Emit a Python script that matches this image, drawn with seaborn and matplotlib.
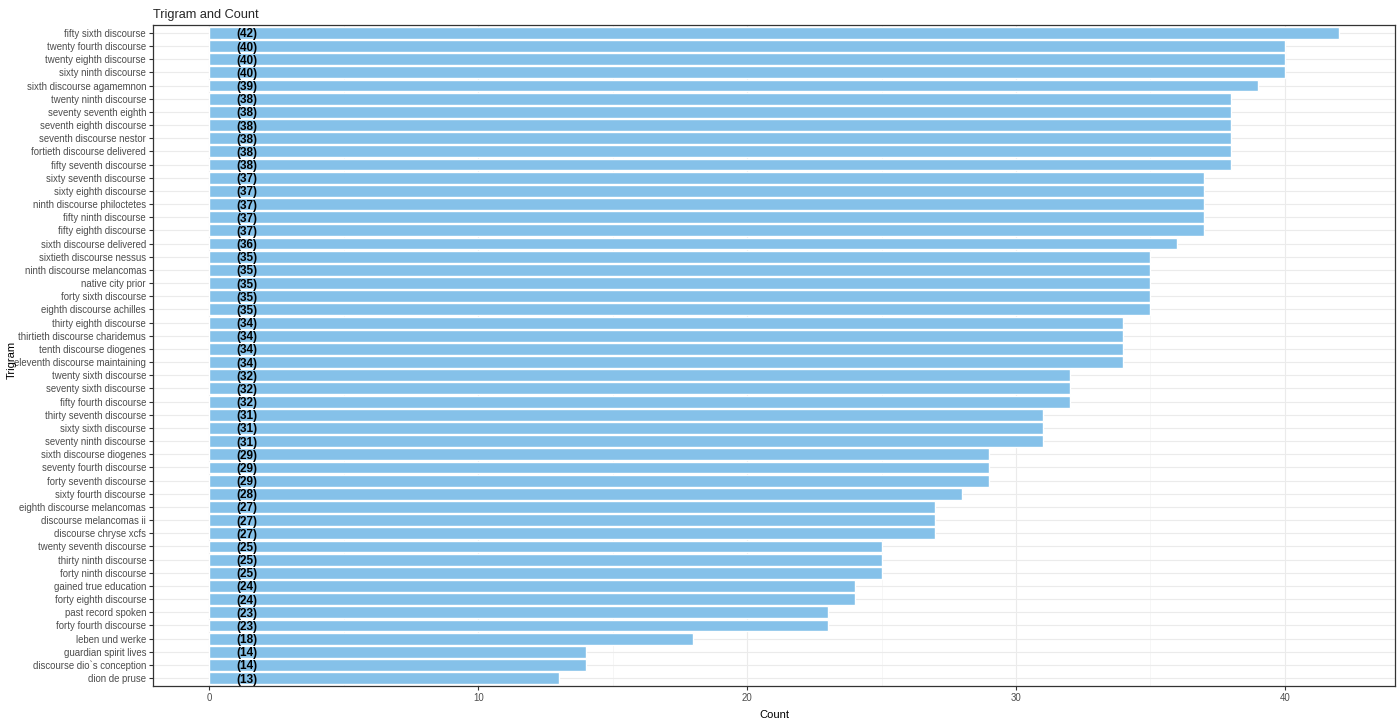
import pandas as pd
import matplotlib.pyplot as plt
import seaborn as sns
from matplotlib.ticker import MultipleLocator

trigrams = [
    "fifty sixth discourse", "twenty fourth discourse", "twenty eighth discourse",
    "sixty ninth discourse", "sixth discourse agamemnon", "twenty ninth discourse",
    "seventy seventh eighth", "seventh eighth discourse", "seventh discourse nestor",
    "fortieth discourse delivered", "fifty seventh discourse", "sixty seventh discourse",
    "sixty eighth discourse", "ninth discourse philoctetes", "fifty ninth discourse",
    "fifty eighth discourse", "sixth discourse delivered", "sixtieth discourse nessus",
    "ninth discourse melancomas", "native city prior", "forty sixth discourse",
    "eighth discourse achilles", "thirty eighth discourse", "thirtieth discourse charidemus",
    "tenth discourse diogenes", "eleventh discourse maintaining", "twenty sixth discourse",
    "seventy sixth discourse", "fifty fourth discourse", "thirty seventh discourse",
    "sixty sixth discourse", "seventy ninth discourse", "sixth discourse diogenes",
    "seventy fourth discourse", "forty seventh discourse", "sixty fourth discourse",
    "eighth discourse melancomas", "discourse melancomas ii", "discourse chryse xcfs",
    "twenty seventh discourse", "thirty ninth discourse", "forty ninth discourse",
    "gained true education", "forty eighth discourse", "past record spoken",
    "forty fourth discourse", "leben und werke", "guardian spirit lives",
    "discourse dio`s conception", "dion de pruse",
]
counts = [
    42, 40, 40, 40, 39, 38, 38, 38, 38, 38, 38, 37, 37, 37, 37, 37, 36, 35, 35, 35,
    35, 35, 34, 34, 34, 34, 32, 32, 32, 31, 31, 31, 29, 29, 29, 28, 27, 27, 27, 25,
    25, 25, 24, 24, 23, 23, 18, 14, 14, 13,
]

df = pd.DataFrame({"Trigram": trigrams, "Count": counts})

sns.set_style("white")
plt.rcParams["font.family"] = ["Liberation Sans", "DejaVu Sans"]

fig = plt.figure(figsize=(14, 7.2), dpi=100)
ax = fig.add_axes([0.1093, 0.0472, 0.8871, 0.9181])

sns.barplot(data=df, x="Count", y="Trigram", color="#85C1E9", width=0.9,
            saturation=1, ax=ax, zorder=2)

for i, c in enumerate(counts):
    ax.text(1.4, i, f"({c})", ha="center", va="center_baseline", fontsize=8.5,
            fontweight="bold", color="black", zorder=3)

ax.set_xlim(-2.1, 44.1)
ax.set_ylim(len(trigrams) - 0.4, -0.6)
ax.xaxis.set_major_locator(MultipleLocator(10))
ax.xaxis.set_minor_locator(MultipleLocator(5))
ax.grid(which="major", axis="both", color="#EBEBEB", linewidth=0.8, zorder=0)
ax.grid(which="minor", axis="x", color="#F3F3F3", linewidth=0.5, zorder=0)
ax.set_axisbelow(True)

for s in ax.spines.values():
    s.set_color("#333333")
    s.set_linewidth(0.9)

ax.tick_params(axis="both", which="major", length=3, width=0.8, color="#333333",
               labelsize=6.9, labelcolor="#4D4D4D", pad=2, left=True, bottom=True)
ax.tick_params(which="minor", length=0)

ax.set_xlabel("Count", fontsize=8, color="black", labelpad=5)
ax.set_ylabel("")
fig.text(12 / 1400, 0.5, "Trigram", rotation=90, ha="center", va="center",
         fontsize=8, color="black")
ax.set_title("Trigram and Count", loc="left", fontsize=9.2, pad=5)

fig.savefig("out.png", dpi=100)
